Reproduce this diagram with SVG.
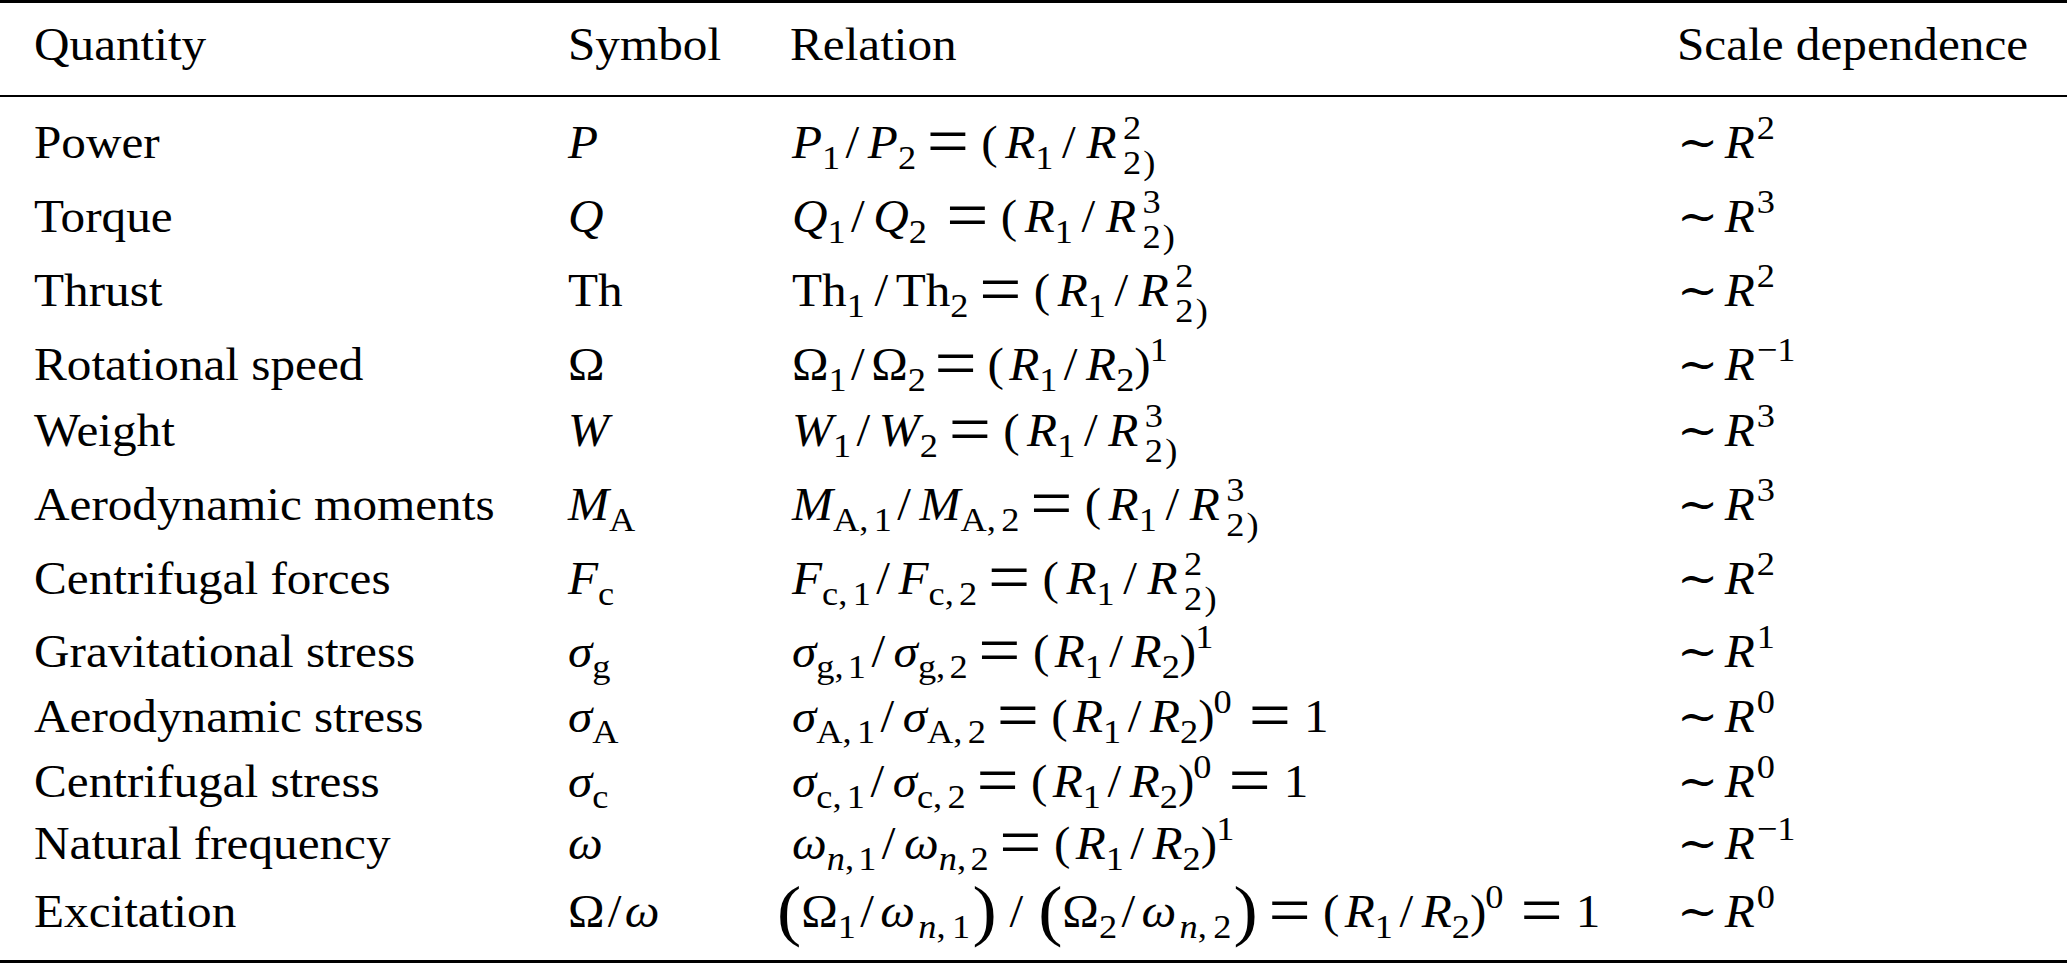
<svg xmlns="http://www.w3.org/2000/svg" width="2067" height="967" viewBox="0 0 2067 967">
<style>
.t{font-family:"Liberation Serif","Times New Roman","DejaVu Serif",serif;font-size:46px;fill:#000}
.i{font-style:italic}
.s{font-size:34px}
.b{font-size:68px}
.e{font-size:70px}
.r3{stroke:#000;stroke-width:3}
.r2{stroke:#000;stroke-width:2}
</style>
<rect width="2067" height="967" fill="#fff"/>
<g id="rules">
<line class="r3" x1="0" y1="1.5" x2="2067" y2="1.5"/>
<line class="r2" x1="0" y1="96" x2="2067" y2="96"/>
<line class="r3" x1="0" y1="961.5" x2="2067" y2="961.5"/>
</g>
<g id="header" class="t">
<text transform="translate(34 60) scale(1.07 1)">Quantity</text>
<text transform="translate(568 60) scale(1.07 1)">Symbol</text>
<text transform="translate(790 60) scale(1.07 1)">Relation</text>
<text transform="translate(1677 60) scale(1.07 1)">Scale dependence</text>
</g>
<g id="row-power" class="t">
<text transform="translate(34 158) scale(1.07 1)">Power</text>
<text transform="translate(568 158) scale(1.07 1)" class="i">P</text>
<text transform="translate(792 158) scale(1.07 1)"><tspan class="i">P</tspan><tspan class="s" dy="11">1</tspan><tspan dy="-11" dx="5">/</tspan><tspan class="i" dx="8">P</tspan><tspan class="s" dy="11">2</tspan><tspan class="e" dy="-4" dx="10">=</tspan><tspan dy="-7" dx="11.5">(</tspan><tspan class="i" dx="7">R</tspan><tspan class="s" dy="11">1</tspan><tspan dy="-11" dx="8">/</tspan><tspan class="i" dx="10">R</tspan><tspan class="s" dy="-19" dx="6">2</tspan><tspan class="s" dx="-17" dy="35">2</tspan><tspan class="s" dx="2">)</tspan></text>
<text transform="translate(1677 158) scale(1.07 1)"><tspan>∼</tspan><tspan class="i" dx="6">R</tspan><tspan class="s" dy="-19" dx="2">2</tspan></text>
</g>
<g id="row-torque" class="t">
<text transform="translate(34 232) scale(1.07 1)">Torque</text>
<text transform="translate(568 232) scale(1.07 1)" class="i">Q</text>
<text transform="translate(792 232) scale(1.07 1)"><tspan class="i">Q</tspan><tspan class="s" dy="11">1</tspan><tspan dy="-11" dx="5">/</tspan><tspan class="i" dx="8">Q</tspan><tspan class="s" dy="11">2</tspan><tspan class="e" dy="-4" dx="18">=</tspan><tspan dy="-7" dx="11.5">(</tspan><tspan class="i" dx="7">R</tspan><tspan class="s" dy="11">1</tspan><tspan dy="-11" dx="8">/</tspan><tspan class="i" dx="10">R</tspan><tspan class="s" dy="-19" dx="6">3</tspan><tspan class="s" dx="-17" dy="35">2</tspan><tspan class="s" dx="2">)</tspan></text>
<text transform="translate(1677 232) scale(1.07 1)"><tspan>∼</tspan><tspan class="i" dx="6">R</tspan><tspan class="s" dy="-19" dx="2">3</tspan></text>
</g>
<g id="row-thrust" class="t">
<text transform="translate(34 306) scale(1.07 1)">Thrust</text>
<text transform="translate(568 306) scale(1.07 1)">Th</text>
<text transform="translate(792 306) scale(1.07 1)"><tspan>Th</tspan><tspan class="s" dy="11">1</tspan><tspan dy="-11" dx="9">/</tspan><tspan dx="7">Th</tspan><tspan class="s" dy="11">2</tspan><tspan class="e" dy="-4" dx="10">=</tspan><tspan dy="-7" dx="11.5">(</tspan><tspan class="i" dx="7">R</tspan><tspan class="s" dy="11">1</tspan><tspan dy="-11" dx="8">/</tspan><tspan class="i" dx="10">R</tspan><tspan class="s" dy="-19" dx="6">2</tspan><tspan class="s" dx="-17" dy="35">2</tspan><tspan class="s" dx="2">)</tspan></text>
<text transform="translate(1677 306) scale(1.07 1)"><tspan>∼</tspan><tspan class="i" dx="6">R</tspan><tspan class="s" dy="-19" dx="2">2</tspan></text>
</g>
<g id="row-rotational-speed" class="t">
<text transform="translate(34 380) scale(1.07 1)">Rotational speed</text>
<text transform="translate(568 380) scale(1.07 1)">Ω</text>
<text transform="translate(792 380) scale(1.07 1)"><tspan>Ω</tspan><tspan class="s" dy="11">1</tspan><tspan dy="-11" dx="4">/</tspan><tspan dx="6">Ω</tspan><tspan class="s" dy="11">2</tspan><tspan class="e" dy="-4" dx="8">=</tspan><tspan dy="-7" dx="10">(</tspan><tspan class="i" dx="5">R</tspan><tspan class="s" dy="11">1</tspan><tspan dy="-11" dx="6">/</tspan><tspan class="i" dx="8">R</tspan><tspan class="s" dy="11">2</tspan><tspan dy="-11">)</tspan><tspan class="s" dy="-19" dx="-1">1</tspan></text>
<text transform="translate(1677 380) scale(1.07 1)"><tspan>∼</tspan><tspan class="i" dx="6">R</tspan><tspan class="s" dy="-19" dx="2">−1</tspan></text>
</g>
<g id="row-weight" class="t">
<text transform="translate(34 446) scale(1.07 1)">Weight</text>
<text transform="translate(568 446) scale(1.07 1)" class="i">W</text>
<text transform="translate(792 446) scale(1.07 1)"><tspan class="i">W</tspan><tspan class="s" dy="11">1</tspan><tspan dy="-11" dx="5">/</tspan><tspan class="i" dx="8">W</tspan><tspan class="s" dy="11">2</tspan><tspan class="e" dy="-4" dx="10">=</tspan><tspan dy="-7" dx="11.5">(</tspan><tspan class="i" dx="7">R</tspan><tspan class="s" dy="11">1</tspan><tspan dy="-11" dx="8">/</tspan><tspan class="i" dx="10">R</tspan><tspan class="s" dy="-19" dx="6">3</tspan><tspan class="s" dx="-17" dy="35">2</tspan><tspan class="s" dx="2">)</tspan></text>
<text transform="translate(1677 446) scale(1.07 1)"><tspan>∼</tspan><tspan class="i" dx="6">R</tspan><tspan class="s" dy="-19" dx="2">3</tspan></text>
</g>
<g id="row-aerodynamic-moments" class="t">
<text transform="translate(34 520) scale(1.07 1)">Aerodynamic moments</text>
<text transform="translate(568 520) scale(1.07 1)"><tspan class="i">M</tspan><tspan class="s" dy="11">A</tspan></text>
<text transform="translate(792 520) scale(1.07 1)"><tspan class="i">M</tspan><tspan class="s" dy="11">A,<tspan dx="5">1</tspan></tspan><tspan dy="-11" dx="5">/</tspan><tspan class="i" dx="8">M</tspan><tspan class="s" dy="11">A,<tspan dx="5">2</tspan></tspan><tspan class="e" dy="-4" dx="10">=</tspan><tspan dy="-7" dx="11.5">(</tspan><tspan class="i" dx="7">R</tspan><tspan class="s" dy="11">1</tspan><tspan dy="-11" dx="8">/</tspan><tspan class="i" dx="10">R</tspan><tspan class="s" dy="-19" dx="6">3</tspan><tspan class="s" dx="-17" dy="35">2</tspan><tspan class="s" dx="2">)</tspan></text>
<text transform="translate(1677 520) scale(1.07 1)"><tspan>∼</tspan><tspan class="i" dx="6">R</tspan><tspan class="s" dy="-19" dx="2">3</tspan></text>
</g>
<g id="row-centrifugal-forces" class="t">
<text transform="translate(34 594) scale(1.07 1)">Centrifugal forces</text>
<text transform="translate(568 594) scale(1.07 1)"><tspan class="i">F</tspan><tspan class="s" dy="11">c</tspan></text>
<text transform="translate(792 594) scale(1.07 1)"><tspan class="i">F</tspan><tspan class="s" dy="11">c,<tspan dx="5">1</tspan></tspan><tspan dy="-11" dx="5">/</tspan><tspan class="i" dx="8">F</tspan><tspan class="s" dy="11">c,<tspan dx="5">2</tspan></tspan><tspan class="e" dy="-4" dx="10">=</tspan><tspan dy="-7" dx="11.5">(</tspan><tspan class="i" dx="7">R</tspan><tspan class="s" dy="11">1</tspan><tspan dy="-11" dx="8">/</tspan><tspan class="i" dx="10">R</tspan><tspan class="s" dy="-19" dx="6">2</tspan><tspan class="s" dx="-17" dy="35">2</tspan><tspan class="s" dx="2">)</tspan></text>
<text transform="translate(1677 594) scale(1.07 1)"><tspan>∼</tspan><tspan class="i" dx="6">R</tspan><tspan class="s" dy="-19" dx="2">2</tspan></text>
</g>
<g id="row-gravitational-stress" class="t">
<text transform="translate(34 667) scale(1.07 1)">Gravitational stress</text>
<text transform="translate(568 667) scale(1.07 1)"><tspan class="i">σ</tspan><tspan class="s" dy="11">g</tspan></text>
<text transform="translate(792 667) scale(1.07 1)"><tspan class="i">σ</tspan><tspan class="s" dy="11">g,<tspan dx="4">1</tspan></tspan><tspan dy="-11" dx="5">/</tspan><tspan class="i" dx="8">σ</tspan><tspan class="s" dy="11">g,<tspan dx="4">2</tspan></tspan><tspan class="e" dy="-4" dx="10">=</tspan><tspan dy="-7" dx="11.5">(</tspan><tspan class="i" dx="5">R</tspan><tspan class="s" dy="11">1</tspan><tspan dy="-11" dx="6">/</tspan><tspan class="i" dx="8">R</tspan><tspan class="s" dy="11">2</tspan><tspan dy="-11">)</tspan><tspan class="s" dy="-19" dx="-1">1</tspan></text>
<text transform="translate(1677 667) scale(1.07 1)"><tspan>∼</tspan><tspan class="i" dx="6">R</tspan><tspan class="s" dy="-19" dx="2">1</tspan></text>
</g>
<g id="row-aerodynamic-stress" class="t">
<text transform="translate(34 732) scale(1.07 1)">Aerodynamic stress</text>
<text transform="translate(568 732) scale(1.07 1)"><tspan class="i">σ</tspan><tspan class="s" dy="11">A</tspan></text>
<text transform="translate(792 732) scale(1.07 1)"><tspan class="i">σ</tspan><tspan class="s" dy="11">A,<tspan dx="5">1</tspan></tspan><tspan dy="-11" dx="5">/</tspan><tspan class="i" dx="8">σ</tspan><tspan class="s" dy="11">A,<tspan dx="5">2</tspan></tspan><tspan class="e" dy="-4" dx="10">=</tspan><tspan dy="-7" dx="11.5">(</tspan><tspan class="i" dx="5">R</tspan><tspan class="s" dy="11">1</tspan><tspan dy="-11" dx="6">/</tspan><tspan class="i" dx="8">R</tspan><tspan class="s" dy="11">2</tspan><tspan dy="-11">)</tspan><tspan class="s" dy="-19" dx="-1">0</tspan><tspan class="e" dy="26" dx="16">=</tspan><tspan dy="-7" dx="12">1</tspan></text>
<text transform="translate(1677 732) scale(1.07 1)"><tspan>∼</tspan><tspan class="i" dx="6">R</tspan><tspan class="s" dy="-19" dx="2">0</tspan></text>
</g>
<g id="row-centrifugal-stress" class="t">
<text transform="translate(34 797) scale(1.07 1)">Centrifugal stress</text>
<text transform="translate(568 797) scale(1.07 1)"><tspan class="i">σ</tspan><tspan class="s" dy="11">c</tspan></text>
<text transform="translate(792 797) scale(1.07 1)"><tspan class="i">σ</tspan><tspan class="s" dy="11">c,<tspan dx="5">1</tspan></tspan><tspan dy="-11" dx="5">/</tspan><tspan class="i" dx="8">σ</tspan><tspan class="s" dy="11">c,<tspan dx="5">2</tspan></tspan><tspan class="e" dy="-4" dx="10">=</tspan><tspan dy="-7" dx="11.5">(</tspan><tspan class="i" dx="5">R</tspan><tspan class="s" dy="11">1</tspan><tspan dy="-11" dx="6">/</tspan><tspan class="i" dx="8">R</tspan><tspan class="s" dy="11">2</tspan><tspan dy="-11">)</tspan><tspan class="s" dy="-19" dx="-1">0</tspan><tspan class="e" dy="26" dx="16">=</tspan><tspan dy="-7" dx="12">1</tspan></text>
<text transform="translate(1677 797) scale(1.07 1)"><tspan>∼</tspan><tspan class="i" dx="6">R</tspan><tspan class="s" dy="-19" dx="2">0</tspan></text>
</g>
<g id="row-natural-frequency" class="t">
<text transform="translate(34 859) scale(1.07 1)">Natural frequency</text>
<text transform="translate(568 859) scale(1.07 1)" class="i">ω</text>
<text transform="translate(792 859) scale(1.07 1)"><tspan class="i">ω</tspan><tspan class="s" dy="11"><tspan class="i">n</tspan>,<tspan dx="4">1</tspan></tspan><tspan dy="-11" dx="5">/</tspan><tspan class="i" dx="8">ω</tspan><tspan class="s" dy="11"><tspan class="i">n</tspan>,<tspan dx="4">2</tspan></tspan><tspan class="e" dy="-4" dx="10">=</tspan><tspan dy="-7" dx="11.5">(</tspan><tspan class="i" dx="5">R</tspan><tspan class="s" dy="11">1</tspan><tspan dy="-11" dx="6">/</tspan><tspan class="i" dx="8">R</tspan><tspan class="s" dy="11">2</tspan><tspan dy="-11">)</tspan><tspan class="s" dy="-19" dx="-1">1</tspan></text>
<text transform="translate(1677 859) scale(1.07 1)"><tspan>∼</tspan><tspan class="i" dx="6">R</tspan><tspan class="s" dy="-19" dx="2">−1</tspan></text>
</g>
<g id="row-excitation" class="t">
<text transform="translate(34 927) scale(1.07 1)">Excitation</text>
<text transform="translate(568 927) scale(1.07 1)"><tspan>Ω</tspan><tspan dx="3">/</tspan><tspan class="i" dx="3">ω</tspan></text>
<text transform="translate(777 927) scale(1.07 1)"><tspan class="b" dy="6">(</tspan><tspan dy="-6">Ω</tspan><tspan class="s" dy="11">1</tspan><tspan dy="-11" dx="4">/</tspan><tspan class="i" dx="6">ω</tspan><tspan class="s" dy="11" dx="3"><tspan class="i">n</tspan>,<tspan dx="6">1</tspan></tspan><tspan class="b" dy="-5" dx="2">)</tspan><tspan dy="-6" dx="12">/</tspan><tspan class="b" dx="14" dy="6">(</tspan><tspan dy="-6">Ω</tspan><tspan class="s" dy="11">2</tspan><tspan dy="-11" dx="4">/</tspan><tspan class="i" dx="6">ω</tspan><tspan class="s" dy="11" dx="3"><tspan class="i">n</tspan>,<tspan dx="6">2</tspan></tspan><tspan class="b" dy="-5" dx="2">)</tspan><tspan class="e" dy="1" dx="10">=</tspan><tspan dy="-7" dx="11.5">(</tspan><tspan class="i" dx="5">R</tspan><tspan class="s" dy="11">1</tspan><tspan dy="-11" dx="6">/</tspan><tspan class="i" dx="8">R</tspan><tspan class="s" dy="11">2</tspan><tspan dy="-11">)</tspan><tspan class="s" dy="-19" dx="-1">0</tspan><tspan class="e" dy="26" dx="16">=</tspan><tspan dy="-7" dx="12">1</tspan></text>
<text transform="translate(1677 927) scale(1.07 1)"><tspan>∼</tspan><tspan class="i" dx="6">R</tspan><tspan class="s" dy="-19" dx="2">0</tspan></text>
</g>
</svg>
